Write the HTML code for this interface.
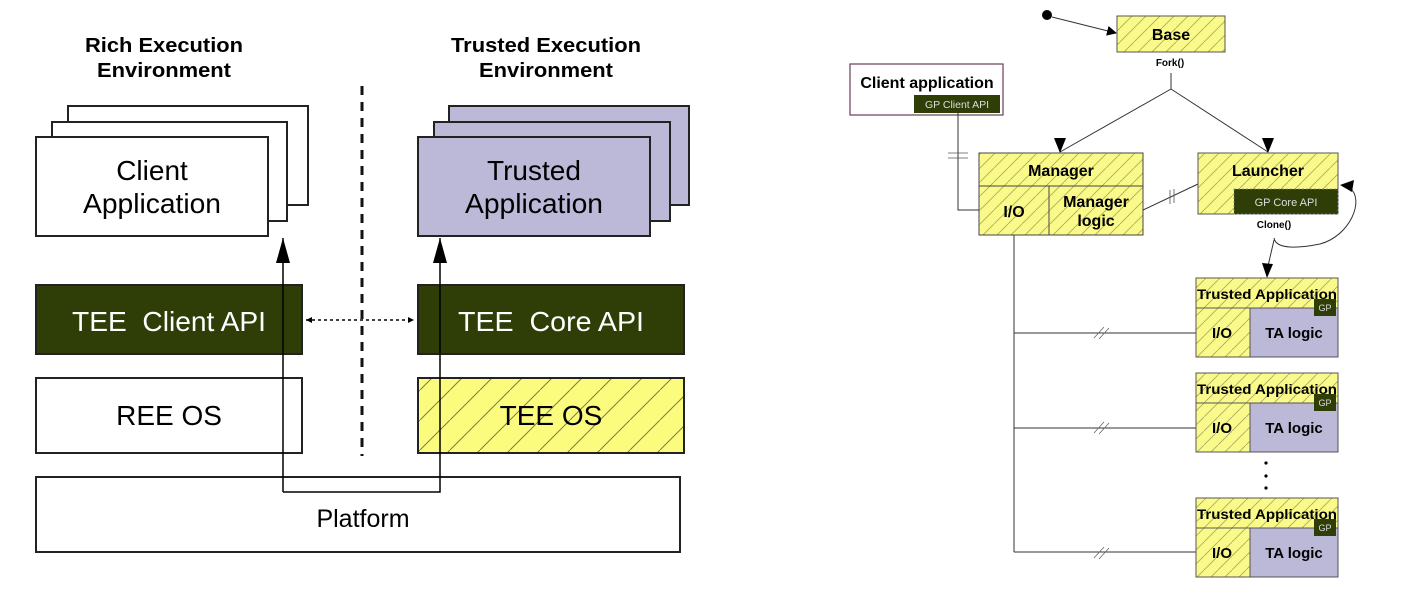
<!DOCTYPE html>
<html><head><meta charset="utf-8"><style>
html,body{margin:0;padding:0;background:#fff;}
svg{display:block;}
text{font-family:"Liberation Sans",sans-serif;}
</style></head><body>
<svg width="1405" height="595" viewBox="0 0 1405 595" xmlns="http://www.w3.org/2000/svg">
<defs>
<pattern id="h" patternUnits="userSpaceOnUse" width="14" height="14">
<rect width="14" height="14" fill="#fafa8a"/>
<path d="M-2,16 L16,-2" stroke="#a8a860" stroke-width="0.8"/>
</pattern>
<pattern id="h2" patternUnits="userSpaceOnUse" width="30" height="30">
<rect width="30" height="30" fill="#fbfb7e"/>
<path d="M-5,35 L35,-5" stroke="#808040" stroke-width="1"/>
</pattern>
<marker id="ar" markerWidth="10" markerHeight="10" refX="9" refY="5" orient="auto" markerUnits="userSpaceOnUse"><path d="M0,0 L10,5 L0,10z" fill="#000"/></marker>
<marker id="as" markerWidth="6" markerHeight="6" refX="6" refY="3" orient="auto" markerUnits="userSpaceOnUse"><path d="M0,0 L6,3 L0,6z" fill="#000"/></marker>
<marker id="ae" markerWidth="6" markerHeight="6" refX="0" refY="3" orient="auto" markerUnits="userSpaceOnUse"><path d="M6,0 L0,3 L6,6z" fill="#000"/></marker>
</defs>

<!-- LEFT -->
<g font-weight="bold" font-size="20" text-anchor="middle">
<text x="164" y="52" textLength="158" lengthAdjust="spacingAndGlyphs">Rich Execution</text>
<text x="164" y="77" textLength="134" lengthAdjust="spacingAndGlyphs">Environment</text>
<text x="546" y="52" textLength="190" lengthAdjust="spacingAndGlyphs">Trusted Execution</text>
<text x="546" y="77" textLength="134" lengthAdjust="spacingAndGlyphs">Environment</text>
</g>
<g stroke="#222" stroke-width="2" fill="#fff">
<rect x="68" y="106" width="240" height="99"/>
<rect x="52" y="122" width="235" height="99"/>
<rect x="36" y="137" width="232" height="99"/>
</g>
<g stroke="#222" stroke-width="2" fill="#bcb8d8">
<rect x="449" y="106" width="240" height="99"/>
<rect x="434" y="122" width="236" height="99"/>
<rect x="418" y="137" width="232" height="99"/>
</g>
<g font-size="28" text-anchor="middle">
<text x="152" y="180">Client</text>
<text x="152" y="213" textLength="138" lengthAdjust="spacingAndGlyphs">Application</text>
<text x="534" y="180">Trusted</text>
<text x="534" y="213" textLength="138" lengthAdjust="spacingAndGlyphs">Application</text>
</g>
<rect x="36" y="285" width="266" height="69" fill="#2f3d07" stroke="#222" stroke-width="2"/>
<rect x="418" y="285" width="266" height="69" fill="#2f3d07" stroke="#222" stroke-width="2"/>
<g font-size="28" fill="#fff" text-anchor="middle">
<text x="169" y="331" textLength="194" lengthAdjust="spacingAndGlyphs">TEE&#160; Client API</text>
<text x="551" y="331" textLength="186" lengthAdjust="spacingAndGlyphs">TEE&#160; Core API</text>
</g>
<rect x="36" y="378" width="266" height="75" fill="#fff" stroke="#222" stroke-width="2"/>
<rect x="418" y="378" width="266" height="75" fill="url(#h2)" stroke="#222" stroke-width="2"/>
<g font-size="28" text-anchor="middle">
<text x="169" y="425">REE OS</text>
<text x="551" y="425">TEE OS</text>
</g>
<rect x="36" y="477" width="644" height="75" fill="#fff" stroke="#222" stroke-width="2"/>
<text x="363" y="527" font-size="25" text-anchor="middle">Platform</text>
<line x1="362" y1="86" x2="362" y2="456" stroke="#111" stroke-width="3" stroke-dasharray="9,7"/>
<path d="M283,492 L283,238 M283,492 L440,492 L440,238" stroke="#000" stroke-width="1.5" fill="none"/>
<path d="M276,263 L283,238 L290,263z M433,263 L440,238 L447,263z" fill="#000"/>
<line x1="306" y1="320" x2="414" y2="320" stroke="#000" stroke-width="1.5" stroke-dasharray="3,3" marker-start="url(#ae)" marker-end="url(#as)"/>

<!-- RIGHT -->
<circle cx="1047" cy="15" r="5" fill="#000"/>
<line x1="1052" y1="17" x2="1116" y2="33" stroke="#333" stroke-width="1" marker-end="url(#ar)"/>
<rect x="1117" y="16" width="108" height="36" fill="url(#h)" stroke="#555" stroke-width="1"/>
<text x="1171" y="40" font-size="16" font-weight="bold" text-anchor="middle">Base</text>
<text x="1170" y="66" font-size="10" font-weight="bold" text-anchor="middle">Fork()</text>
<path d="M1171,73 L1171,89 L1060,152 M1171,89 L1268,152" stroke="#333" stroke-width="1" fill="none"/>
<path d="M1054,138 L1060,153 L1066,138z M1262,138 L1268,153 L1274,138z" fill="#000"/>

<rect x="850" y="64" width="153" height="51" fill="#fff" stroke="#6a3d5a" stroke-width="1.2"/>
<text x="927" y="88" font-size="16" font-weight="bold" text-anchor="middle">Client application</text>
<rect x="914" y="95" width="86" height="18" fill="#2f3d07"/>
<text x="957" y="108" font-size="10.5" fill="#ddd" text-anchor="middle">GP Client API</text>
<path d="M958,113 L958,210 L979,210" stroke="#333" stroke-width="1" fill="none"/>
<path d="M948,153 L968,153 M948,158 L968,158" stroke="#555" stroke-width="0.8"/>

<rect x="979" y="153" width="164" height="82" fill="url(#h)" stroke="#444" stroke-width="1"/>
<path d="M979,186 L1143,186 M1049,186 L1049,235" stroke="#444" stroke-width="1"/>
<text x="1061" y="176" font-size="16" font-weight="bold" text-anchor="middle">Manager</text>
<text x="1014" y="217" font-size="16" font-weight="bold" text-anchor="middle">I/O</text>
<text x="1096" y="207" font-size="16" font-weight="bold" text-anchor="middle">Manager</text>
<text x="1096" y="226" font-size="16" font-weight="bold" text-anchor="middle">logic</text>
<line x1="1143" y1="210" x2="1198" y2="184" stroke="#333" stroke-width="1"/>
<path d="M1170,190 L1170,204 M1174,189 L1174,203" stroke="#555" stroke-width="0.8"/>

<rect x="1198" y="153" width="140" height="61" fill="url(#h)" stroke="#555" stroke-width="1"/>
<text x="1268" y="176" font-size="16" font-weight="bold" text-anchor="middle">Launcher</text>
<rect x="1234" y="189" width="104" height="25" fill="#2f3d07" stroke="#888" stroke-width="0.8" stroke-dasharray="2,2"/>
<text x="1286" y="206" font-size="11" fill="#ddd" text-anchor="middle">GP Core API</text>
<text x="1274" y="228" font-size="10" font-weight="bold" text-anchor="middle">Clone()</text>
<path d="M1274,238 C1276,250 1300,248 1320,244 C1350,236 1365,200 1350,188" stroke="#333" stroke-width="1" fill="none"/>
<path d="M1340,185 L1354,180 L1352,192z" fill="#000"/>
<line x1="1274" y1="240" x2="1268" y2="266" stroke="#333" stroke-width="1"/>
<path d="M1262,263 L1267,278 L1273,264z" fill="#000"/>

<line x1="1014" y1="235" x2="1014" y2="552" stroke="#333" stroke-width="1"/>
<g stroke="#333" stroke-width="1">
<line x1="1014" y1="333" x2="1196" y2="333"/>
<line x1="1014" y1="428" x2="1196" y2="428"/>
<line x1="1014" y1="552" x2="1196" y2="552"/>
</g>
<g stroke="#666" stroke-width="0.8">
<path d="M1094,338 L1104,327 M1099,339 L1109,328"/>
<path d="M1094,433 L1104,422 M1099,434 L1109,423"/>
<path d="M1094,558 L1104,547 M1099,559 L1109,548"/>
</g>

<g id="ta">
<rect x="1196" y="278" width="142" height="79" fill="url(#h)" stroke="#555" stroke-width="1"/>
<rect x="1250" y="308" width="88" height="49" fill="#bcb8d8" stroke="#555" stroke-width="1"/>
<line x1="1196" y1="308" x2="1250" y2="308" stroke="#555" stroke-width="1"/>
<rect x="1314" y="299" width="22" height="17" fill="#2f3d07"/>
<text x="1325" y="311" font-size="9" fill="#ddd" text-anchor="middle">GP</text>
<text x="1267" y="299" font-size="14" font-weight="bold" text-anchor="middle" textLength="140" lengthAdjust="spacingAndGlyphs">Trusted Application</text>
<text x="1222" y="338" font-size="15" font-weight="bold" text-anchor="middle">I/O</text>
<text x="1294" y="338" font-size="15" font-weight="bold" text-anchor="middle">TA logic</text>
</g>
<use href="#ta" transform="translate(0,95)"/>
<use href="#ta" transform="translate(0,220)"/>
<g fill="#000"><circle cx="1266" cy="463" r="1.6"/><circle cx="1266" cy="476" r="1.6"/><circle cx="1266" cy="488" r="1.6"/></g>
</svg>
</body></html>
